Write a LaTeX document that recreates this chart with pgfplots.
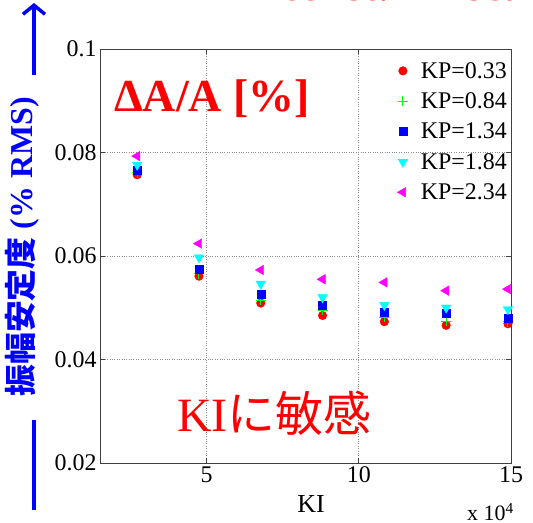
\documentclass[border=0pt]{standalone}
\usepackage{fontspec}
\setmainfont{Liberation Serif}[BoldFont={Liberation Serif Bold}]
\newfontfamily\cjk{Noto Sans CJK JP}
\usepackage{pgfplots}
\pgfplotsset{compat=1.18}
\usetikzlibrary{arrows.meta}

% KI in units of 1e4, amplitude stability in % RMS
\pgfplotstableread{
ki     a
2.72   0.0757
4.75   0.0561
6.78   0.0509
8.81   0.0485
10.84  0.0473
12.87  0.0466
14.90  0.0469
}\kpA
\pgfplotstableread{
ki     a
2.72   0.0761
4.75   0.0566
6.78   0.0514
8.81   0.0495
10.84  0.0482
12.87  0.0474
14.90  0.0473
}\kpB
\pgfplotstableread{
ki     a
2.72   0.0765
4.75   0.0574
6.78   0.0527
8.81   0.0505
10.84  0.0492
12.87  0.0490
14.90  0.0480
}\kpC
\pgfplotstableread{
ki     a
2.72   0.0776
4.75   0.0597
6.78   0.0546
8.81   0.0520
10.84  0.0505
12.87  0.0500
14.90  0.0497
}\kpD
\pgfplotstableread{
ki     a
2.72   0.0793
4.75   0.0624
6.78   0.0573
8.81   0.0555
10.84  0.0549
12.87  0.0533
14.90  0.0536
}\kpE

\definecolor{mred}{RGB}{255,0,0}
\definecolor{mgreen}{RGB}{0,255,0}
\definecolor{mblue}{RGB}{0,0,255}
\definecolor{mcyan}{RGB}{0,255,255}
\definecolor{mmag}{RGB}{255,0,255}

\begin{document}
\begin{tikzpicture}[x=1bp,y=1bp]
\useasboundingbox (0,0) rectangle (533,523);

% title line running off the top edge
\node[anchor=base west, text=mred, font=\rmfamily\bfseries\fontsize{44}{50}\selectfont, inner sep=0]
  at (173,522) {KP = const. KI scan};

\begin{axis}[
  at={(100bp,60bp)}, anchor=south west,
  scale only axis, width=411bp, height=414bp,
  xmin=1.5, xmax=15, ymin=0.02, ymax=0.1,
  xtick={5,10,15}, xticklabels={5,10,15},
  ytick={0.02,0.04,0.06,0.08,0.1},
  yticklabels={0.02,0.04,0.06,0.08,0.1},
  scaled x ticks=false, scaled y ticks=false,
  tick align=inside, major tick length=5bp,
  tick style={black!75, line width=0.6bp},
  axis line style={black!75, line width=0.8bp},
  grid=major, grid style={dotted, black!45, line width=0.7bp},
  ticklabel style={font=\rmfamily\fontsize{24}{28}\selectfont,
    /pgf/number format/assume math mode=true},
  legend style={at={(1,1)}, anchor=north east, xshift=-2bp, yshift=-11bp,
    draw=none, fill=none, inner sep=0pt, row sep=9bp,
    font=\rmfamily\fontsize{24}{28}\selectfont,
    /tikz/every odd column/.append style={column sep=11bp},
    cells={anchor=west}},
  legend cell align=left,
]
\addplot[only marks, mark=*, mark size=4.3bp, color=mred] table[x=ki,y=a] {\kpA};
\addlegendentry{KP=0.33}
\addplot[only marks, mark=+, mark size=5bp, line width=1bp, color=mgreen] table[x=ki,y=a] {\kpB};
\addlegendentry{KP=0.84}
\addplot[only marks, mark=square*, mark size=4bp, color=mblue] table[x=ki,y=a] {\kpC};
\addlegendentry{KP=1.34}
\addplot[only marks, mark=triangle*, mark size=5.5bp, mark options={rotate=180}, color=mcyan] table[x=ki,y=a] {\kpD};
\addlegendentry{KP=1.84}
\addplot[only marks, mark=triangle*, mark size=5.5bp, mark options={rotate=90}, color=mmag] table[x=ki,y=a] {\kpE};
\addlegendentry{KP=2.34}
\end{axis}

% axis labels
\node[anchor=base, font=\rmfamily\fontsize{26}{30}\selectfont, inner sep=0] at (311,10) {KI};
\node[anchor=base west, font=\rmfamily\fontsize{22}{26}\selectfont, inner sep=0] at (467,2) {x 10\textsuperscript{4}};

% vertical quantity label with its arrow
\node[rotate=90, text=mblue, font=\rmfamily\bfseries\fontsize{32}{36}\selectfont, inner sep=0]
  at (22,276) {{\cjk\bfseries 振幅安定度} (\% RMS)};
\draw[mblue, line width=3.5bp, -{Straight Barb[length=9bp, width=22bp, line width=3.5bp]}] (34,448) -- (34,520);
\draw[mblue, line width=3.5bp] (34,13) -- (34,103);

% annotations
\node[anchor=base west, text=mred, font=\rmfamily\bfseries\fontsize{46}{50}\selectfont, inner sep=0]
  at (114,411) {ΔA/A [\%]};
\node[anchor=base west, text=mred, font=\rmfamily\fontsize{48}{52}\selectfont, inner sep=0]
  at (177,91) {KI{\cjk に敏感}};
\end{tikzpicture}
\end{document}
